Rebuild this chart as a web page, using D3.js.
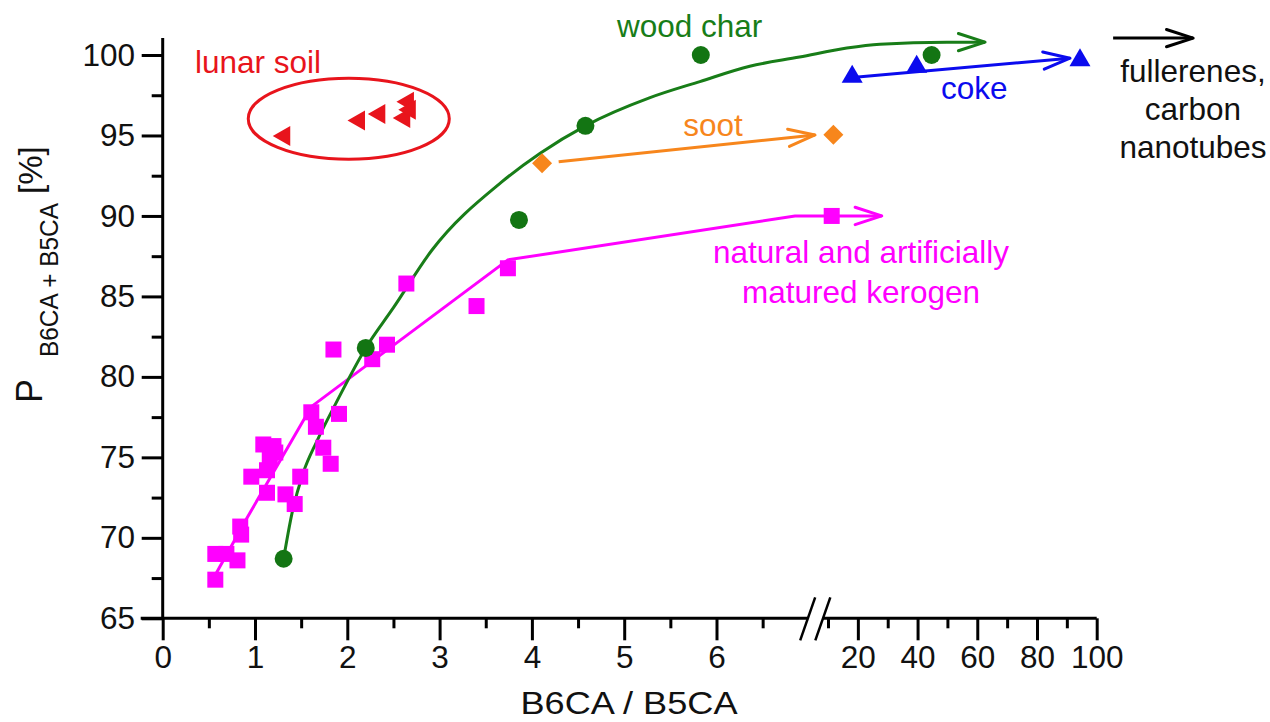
<!DOCTYPE html>
<html><head><meta charset="utf-8">
<script src="https://cdn.jsdelivr.net/npm/d3@7"></script>
<style>
body{margin:0;background:#fff}
text{font-family:"Liberation Sans",Arial,Helvetica,sans-serif}
</style>
</head><body>
<svg id="chart" width="1270" height="722"></svg>
<script>
// ---------- data ----------
const yMajorTicks = [65, 70, 75, 80, 85, 90, 95, 100];
const yMinorTicks = [67.5, 72.5, 77.5, 82.5, 87.5, 92.5, 97.5];
const xMajorTicks = [0, 1, 2, 3, 4, 5, 6, 20, 40, 60, 80, 100];
const xMinorTicks = [0.5, 1.5, 2.5, 3.5, 4.5, 5.5, 6.5, 10, 30, 50, 70, 90];

// natural and artificially matured kerogen (squares)
const kerogenX = [0.57, 0.57, 0.69, 0.81, 0.84, 0.85, 0.96, 1.13, 1.09, 1.20, 1.22, 1.16, 1.13, 1.33, 1.43, 1.49, 1.61, 1.66, 1.74, 1.82, 1.91, 1.85, 2.27, 2.43, 2.64, 3.40, 3.74, 11.24];
const kerogenY = [67.4, 69.0, 69.0, 68.6, 70.7, 70.2, 73.8, 72.8, 75.8, 75.7, 75.3, 74.9, 74.2, 72.7, 72.1, 73.8, 77.8, 76.9, 75.6, 74.6, 77.7, 81.7, 81.1, 82.0, 85.8, 84.4, 86.75, 90.0];
const kerogenLineX = [0.58, 0.91, 1.61, 3.74, 6.85, 28.0];
const kerogenLineY = [67.8, 71.2, 78.15, 87.27, 90.0, 90.0];

// wood char (circles) and fitted curve
const woodX = [1.31, 2.20, 3.86, 4.58, 5.83, 44.7];
const woodY = [68.7, 81.8, 89.75, 95.6, 100.0, 100.0];
const woodCurveX = [1.31, 1.40, 1.52, 1.67, 1.88, 2.20, 2.50, 2.92, 3.67, 4.09, 4.58, 5.28, 5.82, 6.36, 6.90, 16.3, 27.4, 49.8, 62.6];
const woodCurveY = [68.7, 71.5, 74.0, 76.0, 78.4, 81.8, 84.3, 87.9, 92.1, 93.9, 95.6, 97.35, 98.35, 99.3, 99.87, 100.43, 100.67, 100.8, 100.8];

// soot (diamonds)
const sootX = [4.11, 11.8];
const sootY = [93.28, 95.04];
const sootArrowX = [4.29, 7.97];
const sootArrowY = [93.36, 95.03];

// coke (up triangles)
const cokeX = [18.1, 39.7, 94.4];
const cokeY = [98.77, 99.39, 99.8];
const cokeArrowX = [18.1, 91.06];
const cokeArrowY = [98.6, 99.8];

// lunar soil (left triangles)
const lunarX = [1.29, 2.10, 2.32, 2.59, 2.63, 2.65];
const lunarY = [94.97, 95.93, 96.34, 96.08, 97.1, 96.6];
const lunarEllipseCenter = [2.016, 96.04];
const lunarEllipseRadius = [1.089, 2.52];

// fullerenes arrow
const fullArrowX = [105.5, 132.3];
const fullArrowY = [101.05, 101.05];

// ---------- scales ----------
const svg = d3.select("#chart");
const x = d3.scaleLinear().domain([0, 7, 10, 100]).range([162.7, 808.8, 828, 1096.7]);
const y = d3.scaleLinear().domain([65, 100]).range([618.3, 55]);
const yTop = 101.06;

const C = {
  green: "#187d18", greenPt: "#137513", magenta: "#ff00ff", orange: "#f7861c",
  blue: "#0b0bee", red: "#e8141c", black: "#111"
};
const FS = 31.5;

// ---------- axes ----------
const axisG = svg.append("g");
axisG.append("line").attr("x1", x(0)).attr("x2", x(0)).attr("y1", y(65)).attr("y2", y(yTop))
  .attr("stroke", "#000").attr("stroke-width", 3);
const breakL = 6.99, breakR = 9.22;
axisG.append("line").attr("x1", x(0) - 22).attr("x2", x(breakL)).attr("y1", y(65)).attr("y2", y(65))
  .attr("stroke", "#000").attr("stroke-width", 3);
axisG.append("line").attr("x1", x(breakR)).attr("x2", x(100)).attr("y1", y(65)).attr("y2", y(65))
  .attr("stroke", "#000").attr("stroke-width", 3);
[breakL, breakR].forEach(v => {
  axisG.append("line")
    .attr("x1", x(v) - 7.7).attr("y1", y(65) + 22)
    .attr("x2", x(v) + 7.3).attr("y2", y(65) - 21)
    .attr("stroke", "#000").attr("stroke-width", 2.5);
});

function styleAxis(g) {
  g.select(".domain").remove();
  g.selectAll(".tick line").attr("stroke", "#000").attr("stroke-width", 3);
  g.selectAll(".tick text").attr("fill", "#111").attr("font-size", FS)
    .attr("font-family", '"Liberation Sans",Arial,sans-serif');
}
svg.append("g").attr("transform", `translate(0,${y(65)})`)
  .call(d3.axisBottom(x).tickValues(xMajorTicks).tickSize(22).tickPadding(5.7).tickFormat(d3.format("d")))
  .call(styleAxis);
svg.append("g").attr("transform", `translate(0,${y(65)})`)
  .call(d3.axisBottom(x).tickValues(xMinorTicks).tickSize(10).tickFormat(""))
  .call(styleAxis);
svg.append("g").attr("transform", `translate(${x(0)},0)`)
  .call(d3.axisLeft(y).tickValues(yMajorTicks).tickSize(21).tickPadding(6.7).tickFormat(d3.format("d")))
  .call(styleAxis);
svg.append("g").attr("transform", `translate(${x(0)},0)`)
  .call(d3.axisLeft(y).tickValues(yMinorTicks).tickSize(11).tickFormat(""))
  .call(styleAxis);

// axis titles
svg.append("text").attr("x", 629).attr("y", 714).attr("text-anchor", "middle")
  .attr("font-size", 32).attr("fill", "#111").attr("textLength", 217).attr("lengthAdjust", "spacingAndGlyphs")
  .text("B6CA / B5CA");
const yt = [
  {t: "P", bx: 42, s: 403, fs: 36},
  {t: "B6CA + B5CA", bx: 58, s: 357, len: 154, fs: 25},
  {t: "[%]", bx: 42, s: 194, fs: 33}
];
yt.forEach(d => {
  const t = svg.append("text").attr("transform", `translate(${d.bx},${d.s}) rotate(-90)`)
    .attr("font-size", d.fs).attr("fill", "#111").text(d.t);
  if (d.len) t.attr("textLength", d.len).attr("lengthAdjust", "spacingAndGlyphs");
});

// ---------- helpers ----------
function arrowHead(g, p0, p1, color, len = 28, ang = 18) {
  const a = Math.atan2(p1[1] - p0[1], p1[0] - p0[0]);
  const r = ang * Math.PI / 180;
  const a1 = [p1[0] - len * Math.cos(a - r), p1[1] - len * Math.sin(a - r)];
  const a2 = [p1[0] - len * Math.cos(a + r), p1[1] - len * Math.sin(a + r)];
  g.append("path").attr("d", `M${a1[0]},${a1[1]}L${p1[0]},${p1[1]}L${a2[0]},${a2[1]}`)
    .attr("fill", "none").attr("stroke", color).attr("stroke-width", 3)
    .attr("stroke-linecap", "round").attr("stroke-linejoin", "round");
}
function straightArrow(g, xs, ys, color) {
  const p0 = [x(xs[0]), y(ys[0])], p1 = [x(xs[1]), y(ys[1])];
  g.append("line").attr("x1", p0[0]).attr("y1", p0[1]).attr("x2", p1[0]).attr("y2", p1[1])
    .attr("stroke", color).attr("stroke-width", 3);
  arrowHead(g, p0, p1, color);
}

const plot = svg.append("g");

// lunar ellipse
plot.append("ellipse")
  .attr("cx", x(lunarEllipseCenter[0])).attr("cy", y(lunarEllipseCenter[1]))
  .attr("rx", x(lunarEllipseCenter[0] + lunarEllipseRadius[0]) - x(lunarEllipseCenter[0]))
  .attr("ry", y(lunarEllipseCenter[1]) - y(lunarEllipseCenter[1] + lunarEllipseRadius[1]))
  .attr("fill", "none").attr("stroke", C.red).attr("stroke-width", 3);

// kerogen line
const kerLine = kerogenLineX.map((v, i) => [v, kerogenLineY[i]]);
plot.append("path").datum(kerLine)
  .attr("d", d3.line().x(d => x(d[0])).y(d => y(d[1])))
  .attr("fill", "none").attr("stroke", C.magenta).attr("stroke-width", 3);
{
  const n = kerLine.length;
  arrowHead(plot, [x(kerLine[n - 2][0]), y(kerLine[n - 2][1])], [x(kerLine[n - 1][0]), y(kerLine[n - 1][1])], C.magenta);
}

// wood char curve
const woodLine = woodCurveX.map((v, i) => [v, woodCurveY[i]]);
plot.append("path").datum(woodLine)
  .attr("d", d3.line().x(d => x(d[0])).y(d => y(d[1])).curve(d3.curveMonotoneX))
  .attr("fill", "none").attr("stroke", C.green).attr("stroke-width", 3);
{
  const n = woodLine.length;
  arrowHead(plot, [x(woodLine[n - 2][0]), y(woodLine[n - 2][1])], [x(woodLine[n - 1][0]), y(woodLine[n - 1][1])], C.green);
}

// soot / coke / fullerenes arrows
straightArrow(plot, sootArrowX, sootArrowY, C.orange);
straightArrow(plot, cokeArrowX, cokeArrowY, C.blue);
straightArrow(plot, fullArrowX, fullArrowY, "#000");

// markers
plot.selectAll(".ker").data(kerogenX.map((v, i) => [v, kerogenY[i]])).join("rect")
  .attr("x", d => x(d[0]) - 8).attr("y", d => y(d[1]) - 8).attr("width", 16).attr("height", 16)
  .attr("fill", C.magenta);
plot.selectAll(".wood").data(woodX.map((v, i) => [v, woodY[i]])).join("circle")
  .attr("cx", d => x(d[0])).attr("cy", d => y(d[1])).attr("r", 9).attr("fill", C.greenPt);
plot.selectAll(".soot").data(sootX.map((v, i) => [v, sootY[i]])).join("path")
  .attr("d", d => { const cx = x(d[0]), cy = y(d[1]); return `M${cx},${cy - 10}L${cx + 10},${cy}L${cx},${cy + 10}L${cx - 10},${cy}Z`; })
  .attr("fill", C.orange);
plot.selectAll(".coke").data(cokeX.map((v, i) => [v, cokeY[i]])).join("path")
  .attr("d", d => { const cx = x(d[0]), cy = y(d[1]); return `M${cx},${cy - 10}L${cx + 10.5},${cy + 8}L${cx - 10.5},${cy + 8}Z`; })
  .attr("fill", C.blue);
plot.selectAll(".lunar").data(lunarX.map((v, i) => [v, lunarY[i]])).join("path")
  .attr("d", d => { const cx = x(d[0]), cy = y(d[1]); return `M${cx - 9},${cy}L${cx + 8.5},${cy - 10}L${cx + 8.5},${cy + 10}Z`; })
  .attr("fill", C.red);

// ---------- annotations ----------
const labels = [
  {t: "lunar soil", x: 195, y: 72.7, c: C.red, a: "start"},
  {t: "wood char", x: 617, y: 37, c: C.green, a: "start"},
  {t: "soot", x: 683.3, y: 136, c: C.orange, a: "start"},
  {t: "coke", x: 941, y: 99.3, c: C.blue, a: "start"},
  {t: "natural and artificially", x: 861, y: 263.3, c: C.magenta, a: "middle"},
  {t: "matured kerogen", x: 861, y: 303.3, c: C.magenta, a: "middle"},
  {t: "fullerenes,", x: 1193, y: 81.7, c: "#111", a: "middle"},
  {t: "carbon", x: 1193, y: 120, c: "#111", a: "middle"},
  {t: "nanotubes", x: 1193, y: 158, c: "#111", a: "middle"}
];
svg.selectAll(".lbl").data(labels).join("text")
  .attr("x", d => d.x).attr("y", d => d.y).attr("text-anchor", d => d.a)
  .attr("fill", d => d.c).attr("font-size", FS).text(d => d.t);
</script>
</body></html>
